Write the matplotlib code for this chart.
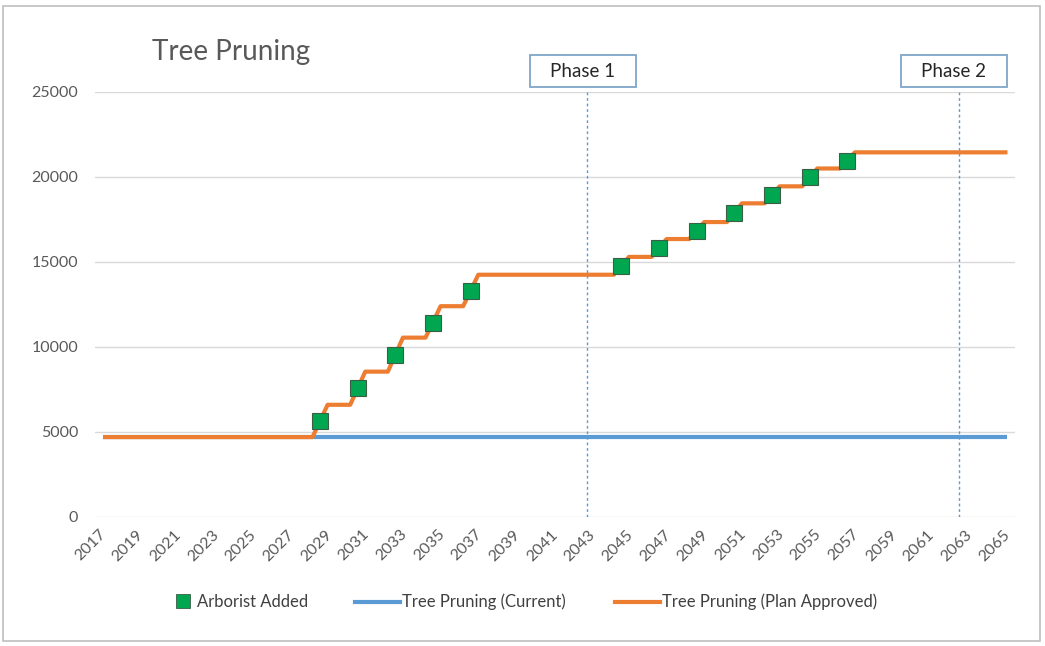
import matplotlib.pyplot as plt
from matplotlib.lines import Line2D
from matplotlib.patches import Rectangle

plt.rcParams['font.family'] = ['Lato', 'DejaVu Sans']

# x axis categories (labels on every other year)
tick_years = list(range(2017, 2066, 2))

# current pruning level (flat)
current_years = [2017, 2065]
current_vals = [4700, 4700]

# plan approved - step line vertices
plan_years = [2017, 2028.1, 2028.9, 2030.1, 2030.9, 2032.1, 2032.9, 2034.1, 2034.9,
              2036.1, 2036.9, 2044.1, 2044.9, 2046.1, 2046.9, 2048.1, 2048.9,
              2050.1, 2050.9, 2052.1, 2052.9, 2054.1, 2054.9, 2056.1, 2056.9, 2065]
plan_vals = [4700, 4700, 6600, 6600, 8550, 8550, 10550, 10550, 12400,
             12400, 14250, 14250, 15300, 15300, 16350, 16350, 17350,
             17350, 18450, 18450, 19450, 19450, 20500, 20500, 21450, 21450]

# arborist added markers
arborist_years = [2028.5, 2030.5, 2032.5, 2034.5, 2036.5, 2044.5, 2046.5,
                  2048.5, 2050.5, 2052.5, 2054.5, 2056.5]
arborist_vals = [5650, 7600, 9550, 11400, 13300, 14750, 15850, 16850,
                 17900, 18950, 20000, 20950]

# phase markers
phase_years = [2042.7, 2062.4]
phase_labels = ['Phase 1', 'Phase 2']

orange = '#ED7D31'
blue = '#5B9BD5'
green = '#00A650'
grey = '#595959'

fig = plt.figure(figsize=(10.45, 6.46), dpi=100)
ax = fig.add_axes([0.0909, 0.1997, 0.8804, 0.6579])

ax.plot(current_years, current_vals, color=blue, lw=3, solid_capstyle='butt', zorder=3)
ax.plot(plan_years, plan_vals, color=orange, lw=3, solid_joinstyle='round',
        solid_capstyle='butt', zorder=4)
ax.plot(arborist_years, arborist_vals, ls='none', marker='s', ms=11,
        mfc=green, mec='#3b5e47', mew=0.8, zorder=5)

box_w = 5.6  # years
for yr, lab in zip(phase_years, phase_labels):
    ax.axvline(yr, color=blue, lw=1, ls=(0, (2, 2)), zorder=2)
    ax.add_patch(Rectangle((yr - 0.25 - box_w / 2, 1.012), box_w, 0.075,
                           transform=ax.get_xaxis_transform(), fc='white',
                           ec='#7fa6c9', lw=1.3, clip_on=False, zorder=6))
    ax.text(yr - 0.25, 1.049, lab, transform=ax.get_xaxis_transform(),
            ha='center', va='center', fontsize=13.5, color='#262626',
            clip_on=False, zorder=7)

ax.set_xlim(2016.55, 2065.4)
ax.set_ylim(0, 25000)
ax.set_yticks([0, 5000, 10000, 15000, 20000, 25000])
ax.set_xticks(tick_years)
ax.set_xticklabels([str(y) for y in tick_years], rotation=45, ha='right',
                   va='center', rotation_mode='anchor')
ax.tick_params(axis='x', length=0, pad=11, labelsize=11.5, labelcolor=grey)
ax.tick_params(axis='y', length=0, pad=12, labelsize=11.5, labelcolor=grey)
ax.grid(axis='y', color='#d9d9d9', lw=1)
ax.set_axisbelow(True)
for s in ax.spines.values():
    s.set_visible(False)

fig.text(0.145, 0.92, 'Tree Pruning', fontsize=20, color=grey, va='center')

# legend: marker entry and the two line entries
fig.legend([Line2D([], [], ls='none', marker='s', ms=10, mfc=green,
                   mec='#3b5e47', mew=0.6)],
           ['Arborist Added'], loc='center left',
           bbox_to_anchor=(176 / 1045, 0.068), frameon=False,
           fontsize=12, handlelength=0.8, handletextpad=0.45,
           borderaxespad=0, borderpad=0, labelcolor='#404040')
fig.legend([Line2D([], [], color=blue, lw=3), Line2D([], [], color=orange, lw=3)],
           ['Tree Pruning (Current)', 'Tree Pruning (Plan Approved)'],
           loc='center left', bbox_to_anchor=(355 / 1045, 0.068), ncol=2,
           frameon=False, fontsize=12, handlelength=2.7, handletextpad=0.15,
           columnspacing=2.9, borderaxespad=0, borderpad=0, labelcolor='#404040')

fig.patches.append(Rectangle((0.003, 0.008), 0.992, 0.982, transform=fig.transFigure,
                             fill=False, ec='#bfbfbf', lw=1.2))

fig.savefig('out.png', dpi=100)
